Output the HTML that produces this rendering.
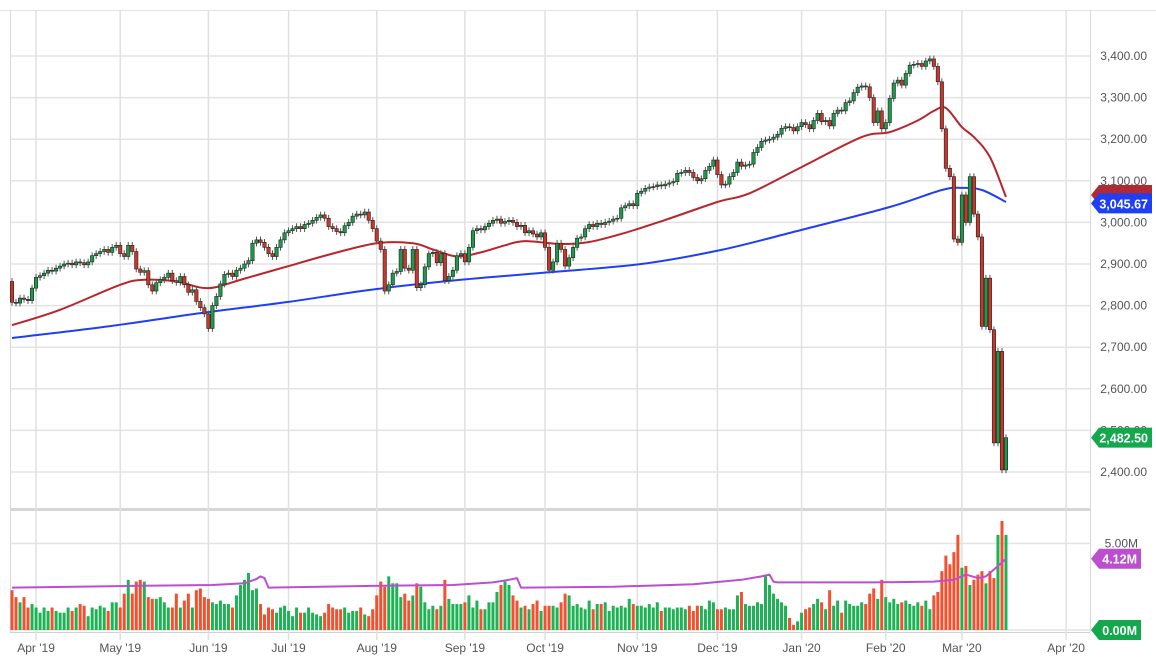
<!DOCTYPE html>
<html><head><meta charset="utf-8"><style>
html,body{margin:0;padding:0;background:#fff;}
svg{display:block;font-family:"Liberation Sans",sans-serif;}
</style></head><body>
<svg id="chart" width="1156" height="664" viewBox="0 0 1156 664">
<rect x="0" y="0" width="1156" height="664" fill="#fff"/>
<line x1="0" y1="10.5" x2="1156" y2="10.5" stroke="#e2e2e2"/>
<g id="grid"></g>
<g id="vol"></g>
<g id="ma"></g>
<g id="candles"></g>
<g id="axes"></g>
</svg>
<script>
const closes=[2808,2806,2818,2815,2812,2842,
2868,2872,2878,2885,2883,2890,2895,2900,2902,2898,2905,2903,2898,2905,2920,2925,2930,2935,2928,2940,2945,
2925,2918,2945,2930,2888,2880,2884,2850,2835,2855,2862,2868,2878,2860,2856,2870,2850,2832,2838,2810,2795,2780,
2745,2800,2822,2852,2875,2878,2870,2885,2890,2900,2908,2950,2958,2952,2940,2925,2918,2940,2958,2975,
2980,2985,2990,2985,2995,2998,3005,3012,3018,3010,2990,2985,2978,2975,2992,3000,3015,3020,3018,3025,3005,2985,
2955,2935,2835,2850,2878,2882,2935,2890,2885,2935,2843,2850,2893,2925,2928,2903,2925,2860,2870,2885,2920,2925,
2905,2940,2980,2985,2982,2990,2998,3005,3008,2998,3002,3005,3000,2990,2993,2975,2980,2972,2965,2975,
2940,2885,2905,2950,2935,2895,2915,2940,2962,2965,2985,2995,2990,2998,2995,3000,3003,3008,3010,3035,3040,3045,3040,
3070,3075,3082,3085,3086,3090,3088,3092,3095,3098,3118,3120,3125,3120,3108,3100,3105,3125,3135,3150,
3115,3090,3092,3110,3120,3145,3135,3138,3140,3168,3180,3195,3198,3200,3205,3212,3226,3230,3228,3220,3230,
3240,3235,3225,3245,3262,3242,3245,3232,3262,3270,3268,3288,3292,3312,3325,3328,3326,3300,3240,3268,3225,
3240,3298,3335,3342,3330,3358,3378,3380,3382,3375,3388,3393,3375,3338,3225,3130,3110,2960,2952,
3066,3000,3110,3020,2965,2750,2866,2742,2470,2690,2405,2482.5];
const volumes=[2.3,1.9,1.6,1.9,1.3,1.5,
1.3,1.0,1.3,1.1,1.3,1.1,1.0,1.0,1.3,1.1,1.3,1.5,1.4,0.8,1.3,1.2,1.4,1.3,1.1,1.6,1.6,
1.3,2.1,2.9,2.1,2.8,2.9,2.8,1.9,1.8,1.8,1.9,1.6,1.3,1.3,2.1,1.3,1.7,2.1,1.3,2.3,2.4,1.9,
1.8,1.6,1.5,1.7,1.5,1.5,1.3,2.0,2.6,2.9,3.3,2.3,2.4,1.5,0.9,1.3,1.2,1.0,1.3,1.4,
1.1,0.8,1.3,1.0,1.0,1.3,1.0,0.9,0.8,1.0,1.5,1.3,1.2,1.2,1.3,1.0,1.1,1.1,1.3,0.9,0.8,1.2,
2.0,2.8,2.5,3.1,2.7,2.7,1.9,2.1,1.7,2.0,2.7,2.5,1.6,1.2,1.4,1.2,1.4,2.9,1.8,1.5,1.5,1.5,
1.6,2.0,1.3,1.7,1.2,1.2,1.6,1.6,2.2,2.6,2.8,2.6,2.0,1.7,1.3,1.4,1.2,1.5,1.7,1.1,
1.4,1.4,1.4,1.3,1.6,2.1,2.0,1.4,1.5,1.3,1.2,1.7,1.2,1.5,1.5,1.6,1.1,1.4,1.3,1.4,1.3,1.8,1.5,
1.4,1.4,1.3,1.5,1.3,1.6,1.1,1.3,1.3,1.2,1.3,1.3,1.2,1.4,1.1,1.4,1.4,1.2,1.7,1.6,
1.2,1.2,1.3,1.2,1.2,2.0,2.2,1.5,1.4,1.4,1.6,1.5,3.1,2.6,2.1,1.8,1.6,1.4,0.7,0.3,0.5,
1.0,1.2,1.3,1.5,1.8,1.6,1.2,2.3,1.4,1.7,1.0,1.7,1.5,1.4,1.4,1.6,1.5,2.1,2.4,1.8,2.9,
1.9,1.6,1.8,1.5,1.6,1.7,1.5,1.4,1.6,1.4,1.7,1.2,2.0,2.2,3.4,4.3,3.8,4.5,5.5,
3.6,3.7,2.6,2.9,3.2,3.4,2.7,3.4,3.0,5.5,6.3,5.5];
const ma50Idx=[0,12,27,33,41,49,58,69,80,91,100,105,111,117,123,128,137,144,153,163,176,184,197,212,219,226,230,233,237,240,244,248];
const ma50Val=[2753,2790,2850,2862,2858,2842,2865,2895,2925,2950,2950,2935,2918,2928,2945,2955,2948,2953,2975,3006,3049,3070,3133,3205,3217,3245,3268,3275,3229,3205,3157,3061];
const ma200Idx=[0,24,47,69,91,112,134,157,177,197,219,232,237,242,248];
const ma200Val=[2722,2750,2782,2809,2840,2862,2880,2900,2934,2982,3037,3078,3083,3078,3049];
const vmaIdx=[0,30,50,58,61,62,63,64,90,110,120,124,126,127,128,150,170,182,187,189,190,191,200,215,230,235,238,241,243,245,248];
const vmaVal=[2.45,2.55,2.6,2.7,2.95,3.1,3.0,2.45,2.55,2.6,2.75,2.9,3.0,2.45,2.45,2.5,2.65,2.9,3.1,3.2,2.8,2.75,2.75,2.75,2.8,2.9,3.2,3.0,3.1,3.5,4.12];
const priceTicks=[3400,3300,3200,3100,3000,2900,2800,2700,2600,2500,2400];
const monthIdx=[6,27,49,69,91,113,133,156,176,197,218,237,263];
const monthLabels=["Apr '19","May '19","Jun '19","Jul '19","Aug '19","Sep '19","Oct '19","Nov '19","Dec '19","Jan '20","Feb '20","Mar '20","Apr '20"];
const volTicks=[5];

const NS="http://www.w3.org/2000/svg";
const xI=i=>12+i*4.008;
const yP=p=>56+(3400-p)*0.416;
const yV=v=>630-v*17.3;
function mk(tag,attrs,parent){const e=document.createElementNS(NS,tag);for(const k in attrs)e.setAttribute(k,attrs[k]);parent.appendChild(e);return e;}
const grid=document.getElementById('grid'),axes=document.getElementById('axes'),vol=document.getElementById('vol'),ma=document.getElementById('ma'),cg=document.getElementById('candles');

let fr=mk('line',{x1:10.5,y1:11,x2:10.5,y2:632,stroke:'#d8d8d8'},grid);


fr=mk('line',{x1:1090.5,y1:11,x2:1090.5,y2:632,stroke:'#d8d8d8'},grid);


fr=mk('rect',{x:10,y:508,width:1080,height:3,fill:'#d6d6d6'},grid);


fr=mk('line',{x1:10,y1:632.5,x2:1090,y2:632.5,stroke:'#d0d0d0'},grid);



priceTicks.forEach(p=>{
  const g=mk('line',{x1:10,y1:yP(p),x2:1090,y2:yP(p),stroke:'#e3e3e3','stroke-width':1.5},grid);
  
  
  const t=mk('text',{x:1147,y:yP(p)+4,'text-anchor':'end','font-size':12,fill:'#555'},axes);
  t.textContent=p.toLocaleString('en-US',{minimumFractionDigits:2});
  
  
});
volTicks.forEach(v=>{
  const g=mk('line',{x1:10,y1:yV(v),x2:1090,y2:yV(v),stroke:'#e3e3e3','stroke-width':1.5},grid);
  
  
  const t=mk('text',{x:1138,y:yV(v)+4,'text-anchor':'end','font-size':12,fill:'#555'},axes);
  t.textContent=v.toFixed(2)+'M';
  
  
});
const base=mk('line',{x1:10,y1:yV(0),x2:1090,y2:yV(0),stroke:'#e3e3e3','stroke-width':1.5},grid);


monthIdx.forEach((m,k)=>{
  const x=xI(m);
  const g=mk('line',{x1:x,y1:11,x2:x,y2:640,stroke:'#e0e0e0','stroke-width':1.5},grid);
  
  
  const t=mk('text',{x:x,y:652,'text-anchor':'middle','font-size':12,fill:'#555'},axes);
  t.textContent=monthLabels[k];
  
  
});

closes.forEach((c,i)=>{
  const o=i>0?closes[i-1]:c+50;
  const up=c>=o;
  const y=yV(volumes[i]);
  const b=mk('rect',{x:xI(i)-1.5,y:y,width:3,height:yV(0)-y,fill:up?'#1db254':'#f2502e'},vol);
  
  
});
function smooth(idx,vals,yf){
  const P=idx.map((d,k)=>[xI(d),yf(vals[k])]);
  let d='M'+P[0][0].toFixed(1)+' '+P[0][1].toFixed(1);
  for(let i=0;i<P.length-1;i++){
    const p0=P[i-1]||P[i],p1=P[i],p2=P[i+1],p3=P[i+2]||P[i+1];
    const c1=[p1[0]+(p2[0]-p0[0])/6,p1[1]+(p2[1]-p0[1])/6];
    const c2=[p2[0]-(p3[0]-p1[0])/6,p2[1]-(p3[1]-p1[1])/6];
    d+=` C${c1[0].toFixed(1)} ${c1[1].toFixed(1)} ${c2[0].toFixed(1)} ${c2[1].toFixed(1)} ${p2[0].toFixed(1)} ${p2[1].toFixed(1)}`;
  }
  return d;
}
function line(idx,vals,yf,color,w,parent,name){
  const l=mk('path',{d:smooth(idx,vals,yf),fill:'none',stroke:color,'stroke-width':w,'stroke-linejoin':'round'},parent);
  
  
}
const vpts=vmaIdx.map((d,k)=>xI(d).toFixed(1)+','+yV(vmaVal[k]).toFixed(1)).join(' ');
const vl=mk('polyline',{points:vpts,fill:'none',stroke:'#bb4fd0','stroke-width':2,'stroke-linejoin':'round'},vol);


line(ma200Idx,ma200Val,yP,'#1f3ff5',2,ma,'ma200-line');
line(ma50Idx,ma50Val,yP,'#b8262c',2,ma,'ma50-line');

closes.forEach((c,i)=>{
  const o=i>0?closes[i-1]:c+50;
  const up=c>=o;
  const hi=Math.max(o,c)+8, lo=Math.min(o,c)-8;
  const x=xI(i);
  const w=mk('line',{x1:x,y1:yP(hi),x2:x,y2:yP(lo),stroke:'#555','stroke-width':1},cg);
  
  
  const yt=yP(Math.max(o,c)), yb=yP(Math.min(o,c));
  const r=mk('rect',{x:x-1.7,y:yt,width:3.4,height:Math.max(1,yb-yt),fill:up?'#1a9a4a':'#c8372a',stroke:'#222','stroke-width':0.6},cg);
  
  
});

function badge(yc,color,text,name,w){
  const p=mk('path',{d:`M1091 ${yc} L1099 ${yc-10} L${1091+w} ${yc-10} L${1091+w} ${yc+10} L1099 ${yc+10} Z`,fill:color},axes);
  
  
  const t=mk('text',{x:1091+w-4,y:yc+5,'text-anchor':'end','font-size':12.5,'font-weight':'bold',fill:'#fff'},axes);
  t.textContent=text;
  
  
}
badge(yP(3061)-2,'#b02a36','','ma50-badge',61);
badge(yP(3045.67),'#1f3ff5','3,045.67','ma200-badge',61);
badge(yP(2482.5),'#14a84c','2,482.50','last-price-badge',61);
badge(yV(4.12),'#bb4fd0','4.12M','volume-average-badge',50);
badge(yV(0),'#14a84c','0.00M','volume-zero-badge',50);
</script>
</body></html>
